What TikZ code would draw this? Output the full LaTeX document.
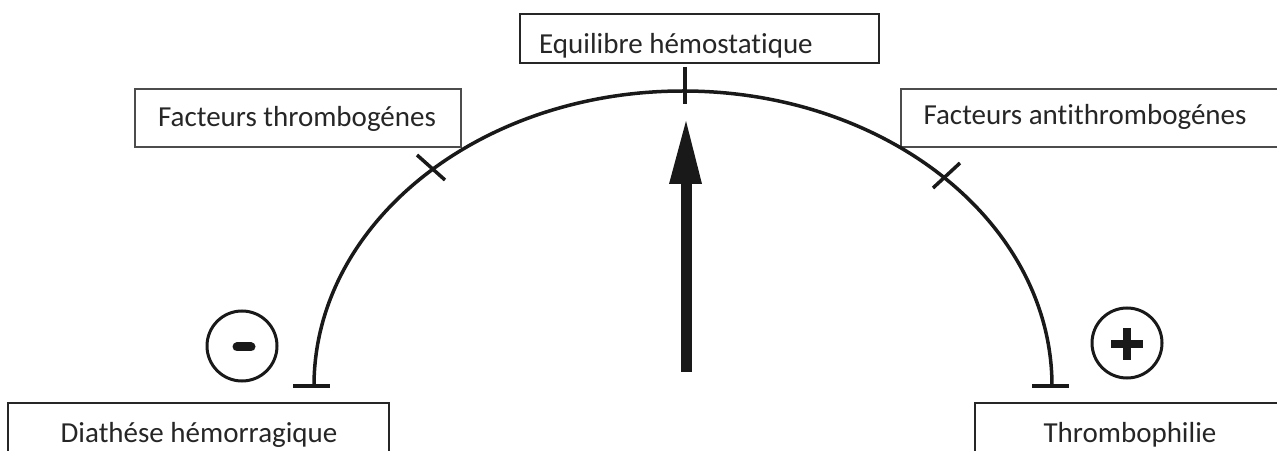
\documentclass[tikz,border=0pt]{standalone}
\usepackage{fontspec}
\setmainfont[Ligatures=NoCommon]{Carlito}
\begin{document}
\begin{tikzpicture}[x=1pt,y=1pt,
  lbl/.style={font=\fontsize{29}{33}\selectfont, text=black!85, inner sep=0pt, anchor=base},
  boxline/.style={draw=black!70, line width=1.5pt},
  arcline/.style={line width=3.5pt, black!90},
  sign/.style={line width=3pt, black!90}]
\useasboundingbox (0,0) rectangle (1277,450);
\clip (0,0) rectangle (1277,450);
% boxes
\node[lbl] (eq) at (676,396) {Equilibre hémostatique};
\draw[boxline, line width=2.5pt, draw=black!85] (520,387) rectangle (879,436);
\draw[boxline] (135,303) rectangle (461,361);
\node[lbl] (ft) at (297,323) {Facteurs thrombogénes};
\draw[boxline] (901,303) rectangle (1290,361);
\node[lbl] (fa) at (1085,325) {Facteurs antithrombogénes};
\draw[boxline, draw=black!85] (8,-20) -- (8,47) -- (389,47) -- (389,-20);
\node[lbl] (dh) at (199,8) {Diathése hémorragique};
\draw[boxline, draw=black!85] (975,-20) -- (975,47) -- (1290,47);
\node[lbl] (th) at (1130,8) {Thrombophilie};
% arc
\coordinate (aL) at (314,64);
\draw[arcline] (aL) arc[start angle=180, end angle=0, x radius=369, y radius=295];
% feet
\draw[arcline] (293,64) -- (330,64);
\draw[arcline] (1032,64) -- (1069,64);
% ticks
\draw[arcline] (685,383) -- (685,346);
\draw[arcline] (417,295) -- (445,270);
\draw[arcline] (960,287) -- (933,262);
% arrow
\fill[black!90] (681,78) rectangle (692,266);
\fill[black!90] (669,266) -- (702,266) -- (686,329) -- cycle;
% signs
\draw[sign] (242,104) circle (35);
\draw[black!90, line width=9pt, line cap=round] (237,103) -- (251,103);
\draw[sign] (1127,107) circle (35);
\draw[black!90, line width=8pt] (1111,106) -- (1143,106);
\draw[black!90, line width=8pt] (1127,90) -- (1127,122);
\end{tikzpicture}
\end{document}
